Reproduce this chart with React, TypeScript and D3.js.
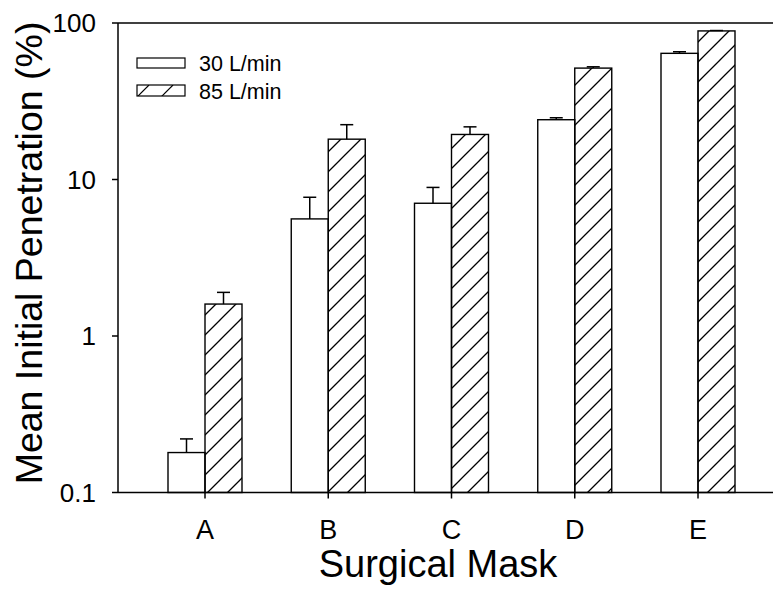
import React from "react";
import * as d3 from "d3";

const categories = ["A", "B", "C", "D", "E"];
const series = ["30 L/min", "85 L/min"];
const values30 = [0.18, 5.6, 7.05, 24.1, 64];
const errors30 = [0.22, 7.7, 8.9, 24.8, 65.5];
const values85 = [1.6, 18.1, 19.4, 51.5, 89];
const errors85 = [1.9, 22.4, 21.7, 52.5, 89.5];
const yTicks = [0.1, 1, 10, 100];
const yTickLabels = ["0.1", "1", "10", "100"];

const W = 773;
const H = 591;
const left = 118;
const right = 780;
const top = 23;
const bottom = 492.5;
const barW = 37;
const FONT = "Arial, 'Liberation Sans', Helvetica, sans-serif";

export default function App() {
  const x = d3.scalePoint<string>().domain(categories).range([205, 698]);
  const y = d3.scaleLog().domain([0.1, 100]).range([bottom, top]);
  const groups = [values30, values85];
  const errs = [errors30, errors85];

  return (
    <svg width={W} height={H} style={{ position: "absolute", left: 0, top: 0 }}>
      <defs>
        <pattern id="hatch" patternUnits="userSpaceOnUse" width={20} height={20}>
          <path d="M0,20 L20,0 M-5,5 L5,-5 M15,25 L25,15" stroke="#000" strokeWidth={1.3} fill="none" />
        </pattern>
        <pattern id="hatchL" patternUnits="userSpaceOnUse" width={24} height={12} x={137} y={85}>
          <path d="M0,12 L12,0" stroke="#000" strokeWidth={1.2} fill="none" />
        </pattern>
      </defs>
      <rect width={W} height={H} fill="#fff" />
      {categories.map((c, i) =>
        groups.map((vals, s) => {
          const cx = x(c) as number;
          const x0 = s === 0 ? cx - barW : cx;
          const yt = y(vals[i]);
          const ye = y(errs[s][i]);
          return (
            <g key={c + s}>
              <rect
                x={x0}
                y={yt}
                width={barW}
                height={bottom - yt}
                fill={s === 0 ? "#fff" : "url(#hatch)"}
                stroke="#000"
                strokeWidth={1.4}
              />
              <line x1={x0 + barW / 2} x2={x0 + barW / 2} y1={yt} y2={ye} stroke="#000" strokeWidth={1.5} />
              <line x1={x0 + barW / 2 - 6.5} x2={x0 + barW / 2 + 6.5} y1={ye} y2={ye} stroke="#000" strokeWidth={1.5} />
            </g>
          );
        })
      )}
      <line x1={left} x2={right} y1={top} y2={top} stroke="#000" strokeWidth={1.5} />
      <line x1={left} x2={right} y1={bottom} y2={bottom} stroke="#000" strokeWidth={1.5} />
      <line x1={left} x2={left} y1={top} y2={bottom} stroke="#000" strokeWidth={1.5} />
      {yTicks.map((t, i) => (
        <g key={t}>
          <line x1={left - 6} x2={left} y1={y(t)} y2={y(t)} stroke="#000" strokeWidth={1.5} />
          <text x={96} y={y(t) + 9} textAnchor="end" fontFamily={FONT} fontSize={26} fill="#000">
            {yTickLabels[i]}
          </text>
        </g>
      ))}
      {categories.map((c) => (
        <g key={c}>
          <line x1={x(c)} x2={x(c)} y1={bottom} y2={bottom + 6} stroke="#000" strokeWidth={1.5} />
          <text x={x(c)} y={539} textAnchor="middle" fontFamily={FONT} fontSize={27} fill="#000">
            {c}
          </text>
        </g>
      ))}
      <text x={438} y={577} textAnchor="middle" fontFamily={FONT} fontSize={38} fill="#000">
        Surgical Mask
      </text>
      <text
        transform="translate(42,253) rotate(-90)"
        textAnchor="middle"
        fontFamily={FONT}
        fontSize={37.5}
        fill="#000"
      >
        Mean Initial Penetration (%)
      </text>
      <rect x={137} y={58} width={48} height={10} fill="#fff" stroke="#000" strokeWidth={1.2} />
      <text x={199} y={71} fontFamily={FONT} fontSize={21.5} fill="#000">
        {series[0]}
      </text>
      <rect x={137} y={85} width={48} height={11} fill="url(#hatchL)" stroke="#000" strokeWidth={1.2} />
      <text x={199} y={99} fontFamily={FONT} fontSize={21.5} fill="#000">
        {series[1]}
      </text>
    </svg>
  );
}
